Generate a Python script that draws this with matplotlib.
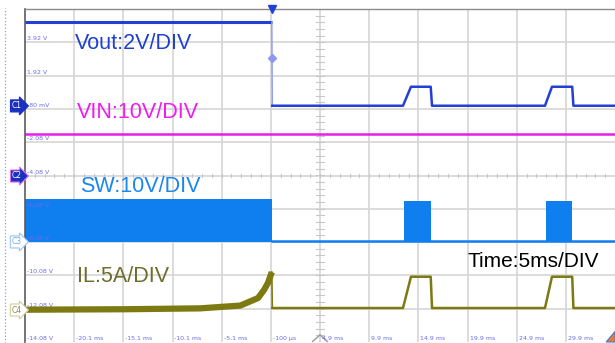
import numpy as np
import matplotlib.pyplot as plt
from matplotlib.lines import Line2D
from matplotlib.patches import Polygon
from matplotlib.transforms import blended_transform_factory, offset_copy

plt.rcParams['font.family'] = ['Liberation Sans', 'DejaVu Sans']

# graticule: 5 ms/div, left scale is CH1 (2 V/div)
t_ticks = [-20.1, -15.1, -10.1, -5.1, -0.1, 4.9, 9.9, 14.9, 19.9, 24.9, 29.9]
t_labels = ["-20.1 ms", "-15.1 ms", "-10.1 ms", "-5.1 ms", "-100 µs", "4.9 ms",
            "9.9 ms", "14.9 ms", "19.9 ms", "24.9 ms", "29.9 ms"]
v_ticks = [3.92, 1.92, -0.08, -2.08, -4.08, -6.08, -8.08, -10.08, -12.08, -14.08]
v_labels = ["3.92 V", "1.92 V", "-80 mV", "-2.08 V", "-4.08 V", "-6.08 V",
            "-8.08 V", "-10.08 V", "-12.08 V", "-14.08 V"]

# Vout (V) - drops at the short and goes into hiccup
vout_pre_t = [-25.1, 0.0]
vout_pre_v = [5.14, 5.14]
vout_t = [0.05, 13.34, 14.15, 16.16, 16.29, 27.78, 28.49, 30.55, 30.67, 34.9]
vout_v = [0.11, 0.11, 1.25, 1.25, 0.11, 0.11, 1.25, 1.25, 0.11, 0.11]

# VIN (V)
vin_level = 12.5

# SW node (V): switching bursts shown as envelope
sw_low = 0.3
sw_bursts = [(-25.1, 0.0, 13.0), (13.44, 16.16, 12.4), (27.85, 30.55, 12.4)]

# inductor current (A)
il_pre_t = [-25.1, -15.0, -7.3, -3.2, -1.4, -0.8, -0.4, 0.0]
il_pre_i = [0.05, 0.12, 0.25, 0.67, 1.8, 3.0, 4.05, 5.7]
il_t = [0.05, 13.34, 14.15, 16.16, 16.29, 27.78, 28.49, 30.55, 30.67, 34.9]
il_i = [0.3, 0.3, 5.0, 5.0, 0.3, 0.3, 5.0, 5.0, 0.3, 0.3]

# channel ground positions on screen (CH1 volts) and V or A per division
ch_zero = {"C1": 0.0, "C2": -4.11, "C3": -8.07, "C4": -12.16}
ch_div = {"C1": 2.0, "C2": 10.0, "C3": 10.0, "C4": 5.0}


def scr(ch, val):
    return ch_zero[ch] + np.asarray(val, dtype=float) / ch_div[ch] * 2.0


c_vout = "#2440d4"
c_vin = "#e61ee6"
c_sw = "#0f7ff0"
c_il = "#7d7a12"
c_lab = "#6a6aee"

fig = plt.figure(figsize=(6.15, 3.43), dpi=100)
ax = fig.add_axes([25 / 615, 1 / 343, 590 / 615, 333 / 343])
ax.set_xlim(-25.1, 34.9)
ax.set_ylim(-14.08, 5.92)
ax.set_xticks([])
ax.set_yticks([])
for s in ["right", "bottom"]:
    ax.spines[s].set_visible(False)
ax.spines["left"].set_color("#5c5c5c")
ax.spines["left"].set_linewidth(1.2)
ax.spines["top"].set_color("#8a8a8a")
ax.spines["top"].set_linewidth(1.0)

# grid
for t in t_ticks:
    ax.axvline(t, color="#d6d6d6", lw=1.2, zorder=0)
for v in v_ticks[:-1]:
    ax.axhline(v, color="#d6d6d6", lw=1.2, zorder=0)

# minor ticks on the centre lines
for v in np.arange(-14.08, 5.92, 0.4):
    ax.plot([4.5, 5.3], [v, v], color="#c8c8c8", lw=0.8, zorder=0)
for t in np.arange(-25.1, 34.9, 1.0):
    ax.plot([t, t], [-4.2, -3.96], color="#c8c8c8", lw=0.8, zorder=0)

# scale labels
lt = offset_copy(ax.transData, fig=fig, x=2, y=1, units="dots")
for v, s in zip(v_ticks, v_labels):
    ax.text(-25.1, v, s, transform=lt, fontsize=4.5, color=c_lab,
            ha="left", va="bottom", family="DejaVu Sans")
for t, s in zip(t_ticks, t_labels):
    ax.text(t, -14.08, s, transform=lt, fontsize=4.5, color=c_lab,
            ha="left", va="bottom", family="DejaVu Sans")

# horizontal position marker and corner flag
ax.add_patch(Polygon([[4.1, -14.08], [4.9, -13.65], [5.7, -14.08]], closed=False,
                     fill=False, ec="#9a9a9a", lw=1.0, clip_on=False, zorder=1))
ax.add_patch(Polygon([[34.9, -14.08], [34.0, -14.08], [34.9, -13.45]],
                     fc="#f07a2a", ec="#3a7ae0", lw=0.8, clip_on=False, zorder=5))

# VIN
ax.axhline(scr("C2", vin_level), color=c_vin, lw=1.8, zorder=2)

# SW
sw_base = scr("C3", sw_low)
ax.plot([0.0, 34.9], [sw_base, sw_base], color=c_sw, lw=1.8, zorder=2)
for t0, t1, hi in sw_bursts:
    ax.fill_between([t0, t1], sw_base - 0.05, scr("C3", hi), color=c_sw,
                    lw=0, zorder=2)

# IL
ax.plot(il_pre_t, scr("C4", il_pre_i), color=c_il, lw=4.5, zorder=3,
        solid_capstyle="butt")
ax.plot([0.0, 0.05], [scr("C4", il_pre_i[-1]), scr("C4", il_i[0])],
        color=c_il, lw=1.2, zorder=3)
ax.plot(il_t, scr("C4", il_i), color=c_il, lw=1.8, zorder=3)

# Vout
ax.plot(vout_pre_t, scr("C1", vout_pre_v), color=c_vout, lw=2.2, zorder=4,
        solid_capstyle="butt")
ax.plot([0.0, 0.05], [scr("C1", vout_pre_v[-1]), scr("C1", vout_v[0])],
        color="#8b98f2", lw=1.0, zorder=4)
ax.plot(vout_t, scr("C1", vout_v), color=c_vout, lw=1.8, zorder=4)

# trigger point and level marker
ax.plot([0.0], [5.92], marker="v", ms=6, color=c_vout, clip_on=False, zorder=6)
ax.plot([0.0], [2.98], marker="D", ms=4, color="#8b98f2", zorder=6)

# channel tags
tag_tr = blended_transform_factory(fig.transFigure, ax.transData)
tags = [("C1", 0.1, "#1a30c2", "#1a30c2", "white"),
        ("C2", -4.11, "#1a30c2", "#e86ee8", "white"),
        ("C3", -8.07, "white", "#9cc4f2", "#70a8ee"),
        ("C4", -12.16, "white", "#cfcf9a", "#8a8a50")]
for name, y, fc, ec, tc in tags:
    fig.text(22 / 615, y, name, transform=tag_tr, fontsize=5.5, color=tc,
             ha="right", va="center", family="DejaVu Sans",
             bbox=dict(boxstyle="rarrow,pad=0.2", fc=fc, ec=ec, lw=0.8))

fig.add_artist(Line2D([5 / 615, 5 / 615], [0, 335 / 343], ls=":", lw=0.9,
                      color="#7ea6e0"))

# channel captions
ax.text(-20.02, 3.52, "Vout:2V/DIV", fontsize=15.5, color="#1f3fd0", va="baseline")
ax.text(-19.84, -0.64, "VIN:10V/DIV", fontsize=15.5, color="#ee1cee", va="baseline")
ax.text(-19.51, -5.05, "SW:10V/DIV", fontsize=15.5, color="#1a86f0", va="baseline")
ax.text(-19.84, -10.49, "IL:5A/DIV", fontsize=15.5, color="#6e6e2c", va="baseline")
ax.text(19.85, -9.59, "Time:5ms/DIV", fontsize=15, color="black", va="baseline")

fig.savefig("out.png", dpi=100)
